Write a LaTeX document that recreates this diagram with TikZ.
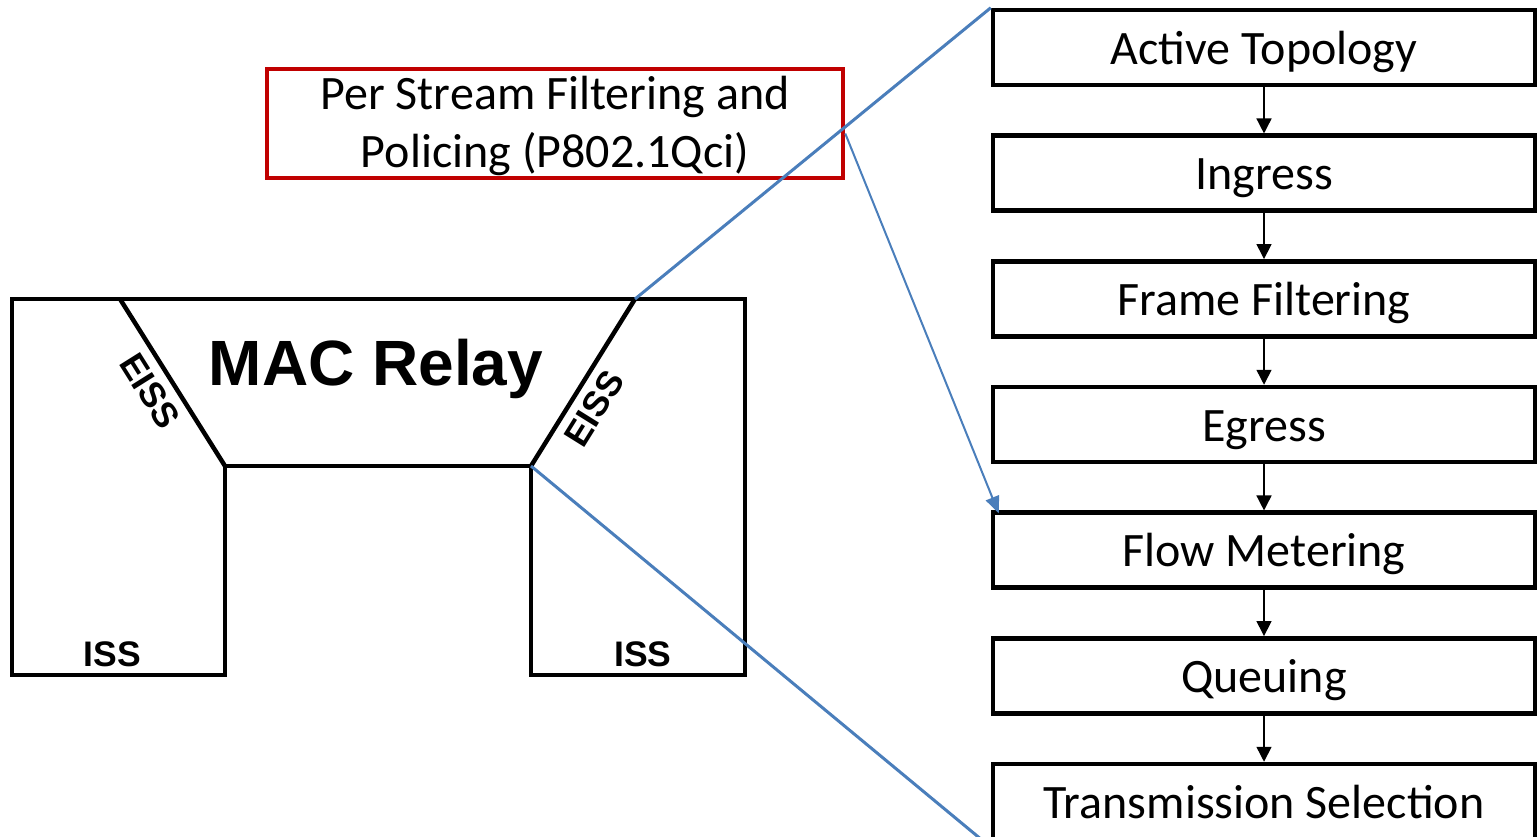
\documentclass[tikz,border=0pt]{standalone}
\usepackage{fontspec}
\setmainfont{Carlito}
\newfontfamily\arialfont{Liberation Sans}
\usetikzlibrary{arrows.meta}
\definecolor{lineblue}{HTML}{4A7EBB}
\definecolor{boxred}{HTML}{C00000}
\begin{document}
\begin{tikzpicture}[x=1pt,y=-1pt,
  stagebox/.style={draw=black, line width=4.5pt, minimum width=542pt, minimum height=75pt,
    inner sep=0pt, text height=40pt, text depth=7pt, font=\fontsize{48}{58}\selectfont},
  flowarrow/.style={-{Triangle[length=15pt,width=15pt]}, line width=1.5pt},
  zoomline/.style={draw=lineblue, line width=3pt},
  zoomarrow/.style={draw=lineblue, line width=2pt, -{Triangle[length=17pt,width=14pt]}},
  macline/.style={draw=black, line width=4.5pt, line join=miter},
  isslabel/.style={font=\arialfont\bfseries\fontsize{35.5}{42}\selectfont, inner sep=0pt},
  eisslabel/.style={font=\arialfont\bfseries\fontsize{35.5}{42}\selectfont, inner sep=8.5pt, sloped, anchor=north},
  redbox/.style={draw=boxred, line width=4.5pt, minimum width=576pt, minimum height=109pt,
    inner sep=0pt, align=center, font=\fontsize{48}{58}\selectfont}
]
\useasboundingbox (0,0) rectangle (1538,836);
\clip (0,0) rectangle (1538,836);

% MAC relay outline
\coordinate (tl) at (12,299);
\coordinate (tr) at (745,299);
\coordinate (ttl) at (120,299);
\coordinate (ttr) at (635,299);
\coordinate (bl) at (225,466);
\coordinate (br) at (531,466);
\draw[macline] (tl) -- (tr) -- (745,675) -- (531,675) -- (br) -- (bl) -- (225,675) -- (12,675) -- cycle;
\draw[macline] (ttl) -- node[eisslabel, pos=0.476] {EISS} (bl);
\draw[macline] (br) -- node[eisslabel, pos=0.418] {EISS} (ttr);

\node[font=\arialfont\bfseries\fontsize{64}{76}\selectfont, anchor=base, inner sep=0pt] (mac) at (376,385) {MAC Relay};
\node[isslabel, anchor=base] (issl) at (112.5,666) {ISS};
\node[isslabel, anchor=base] (issr) at (643,666) {ISS};

% red box
\node[redbox] (psfp) at (555,123.5) {\rule{0pt}{38pt}Per Stream Filtering and\\Policing (P802.1Qci)};

% stages
\node[stagebox] (s1) at (1264,47.5) {Active Topology};
\node[stagebox] (s2) at (1264,173.2) {Ingress};
\node[stagebox] (s3) at (1264,298.8) {Frame Filtering};
\node[stagebox] (s4) at (1264,424.5) {Egress};
\node[stagebox] (s5) at (1264,550.2) {Flow Metering};
\node[stagebox] (s6) at (1264,675.8) {Queuing};
\node[stagebox] (s7) at (1264,801.5) {Transmission Selection};

\foreach \a/\b in {s1/s2,s2/s3,s3/s4,s4/s5,s5/s6,s6/s7}
  \draw[flowarrow] (\a.south) -- (\b.north);

% zoom lines
\draw[zoomline] (ttr) -- (s1.north west);
\draw[zoomline] (br) -- ([yshift=-6pt]s7.south west);
\coordinate (pstart) at ([yshift=-10pt]psfp.east);
\draw[zoomarrow] (pstart) -- ([xshift=8pt,yshift=-3pt]s5.north west);
\end{tikzpicture}
\end{document}
